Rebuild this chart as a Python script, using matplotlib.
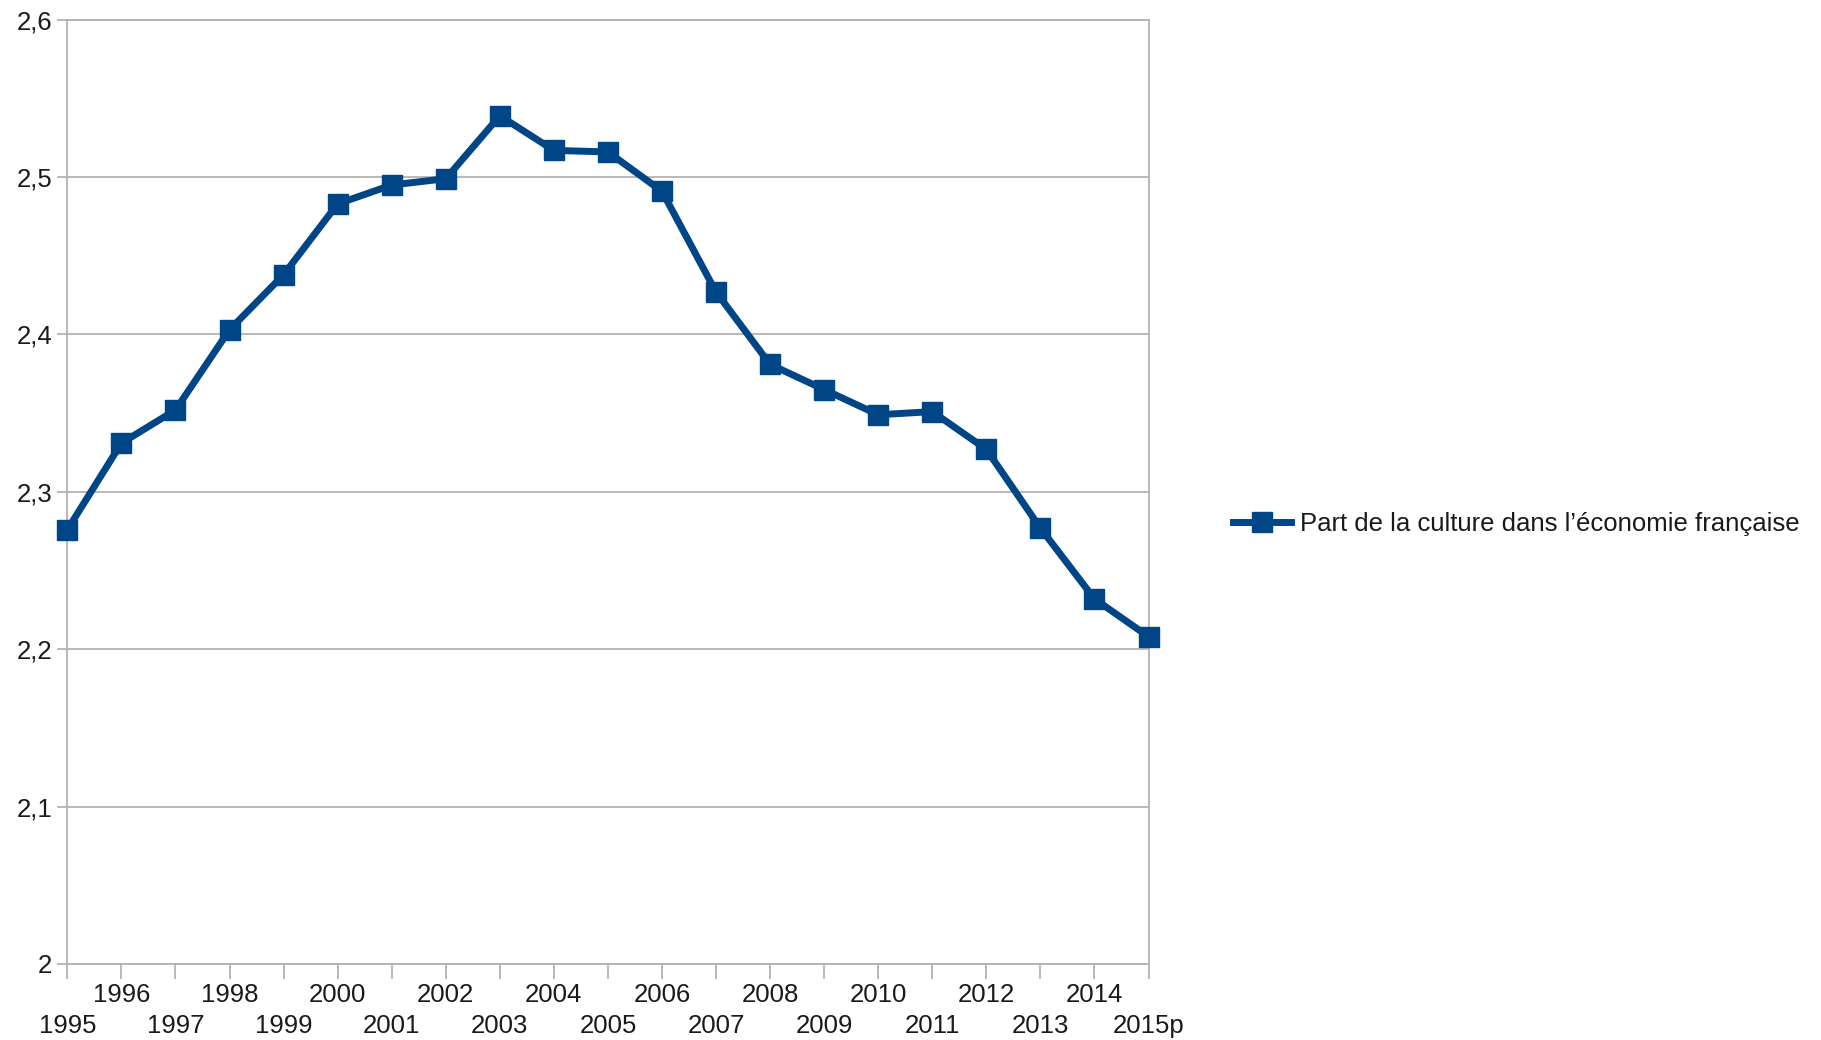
import matplotlib
matplotlib.use("Agg")
import matplotlib.pyplot as plt
from matplotlib.ticker import FixedLocator, FixedFormatter

years = ["1995", "1996", "1997", "1998", "1999", "2000", "2001", "2002", "2003", "2004",
         "2005", "2006", "2007", "2008", "2009", "2010", "2011", "2012", "2013", "2014", "2015p"]
values = [2.276, 2.331, 2.352, 2.403, 2.438, 2.483, 2.495, 2.499, 2.539, 2.517,
          2.516, 2.491, 2.427, 2.381, 2.365, 2.349, 2.351, 2.327, 2.277, 2.232, 2.208]
series_name = "Part de la culture dans l’économie française"
yticks = [2.0, 2.1, 2.2, 2.3, 2.4, 2.5, 2.6]
ytick_labels = ["2", "2,1", "2,2", "2,3", "2,4", "2,5", "2,6"]

plt.rcParams['font.family'] = ['Liberation Sans', 'DejaVu Sans']
fig = plt.figure(figsize=(18.21, 10.40), dpi=100)
ax = fig.add_axes([0.037, 0.0731, 0.5937, 0.9079])

x = list(range(len(years)))
line_color = "#004586"
grid_color = "#b3b3b3"
text_color = "#1a1a1a"
ax.plot(x, values, color=line_color, linewidth=5, marker="s", markersize=14.5,
        label=series_name, clip_on=False, zorder=3)

ax.set_xlim(0, len(years) - 1)
ax.set_ylim(2.0, 2.6)
ax.set_yticks(yticks)
ax.set_yticklabels(ytick_labels)

# staggered category labels: odd positions on first row (major), even on second row (minor)
odd_pos = [i for i in x if i % 2 == 1]
even_pos = [i for i in x if i % 2 == 0]
ax.xaxis.set_major_locator(FixedLocator(odd_pos))
ax.xaxis.set_major_formatter(FixedFormatter([years[i] for i in odd_pos]))
ax.xaxis.set_minor_locator(FixedLocator(even_pos))
ax.xaxis.set_minor_formatter(FixedFormatter([years[i] for i in even_pos]))

ax.yaxis.grid(True, color=grid_color, linewidth=1.3)
ax.set_axisbelow(True)
for s in ax.spines.values():
    s.set_color(grid_color)
    s.set_linewidth(1.3)
ax.tick_params(axis="y", length=7, width=1.3, color=grid_color, labelsize=18.5, pad=4, labelcolor=text_color)
ax.tick_params(axis="x", which="major", length=11, width=1.3, color=grid_color, labelsize=18.5, pad=3,
               labelcolor=text_color)
ax.tick_params(axis="x", which="minor", length=11, width=1.3, color=grid_color, labelsize=18.5, pad=25,
               labelcolor=text_color)

leg = fig.legend(loc="center left", bbox_to_anchor=(0.6642, 0.496), frameon=False,
                 fontsize=18.5, handlelength=2.26, handletextpad=0.35, labelcolor=text_color)

fig.savefig("out.png", dpi=100)
